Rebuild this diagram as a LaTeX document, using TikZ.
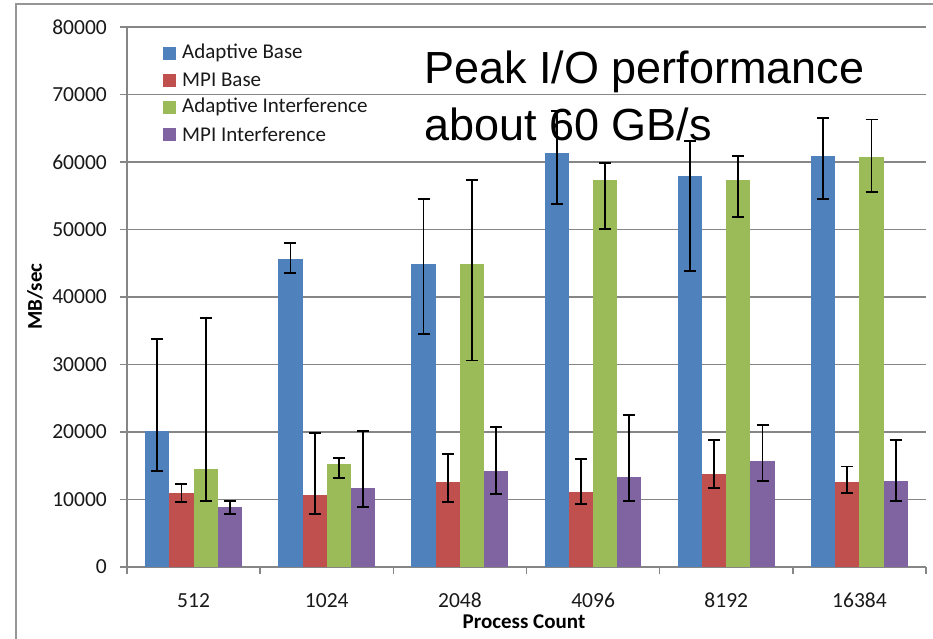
\documentclass[tikz,border=0pt]{standalone}
\usepackage{fontspec}
\setmainfont{Carlito}
\newfontfamily\arialf{Liberation Sans}
\definecolor{cblue}{RGB}{79,129,189}
\definecolor{cred}{RGB}{192,80,77}
\definecolor{cgreen}{RGB}{155,187,89}
\definecolor{cpurple}{RGB}{128,100,162}
\definecolor{gridc}{RGB}{134,134,134}
\definecolor{framec}{RGB}{150,150,150}
\newcommand\drawbar[5]{%
  \fill[#2] (#1,0) rectangle ({#1+24.2},#3);
  \draw[errb] ({#1+12.1},#4) -- ({#1+12.1},#5);
  \draw[errb] ({#1+6.1},#4) -- ({#1+18.1},#4);
  \draw[errb] ({#1+6.1},#5) -- ({#1+18.1},#5);
}
\begin{document}
\begin{tikzpicture}[x=1pt,y=-1pt,
  gridline/.style={draw=gridc,line width=1.5pt},
  errb/.style={draw=black,line width=1.8pt},
  ticklab/.style={font=\fontsize{21.5}{24}\selectfont,text=black!90,inner sep=0pt},
  legtxt/.style={font=\fontsize{21}{24}\selectfont,text=black!90,inner sep=0pt,anchor=west},
  legbox/.style={minimum width=13pt,minimum height=13pt,inner sep=0pt},
  axtitle/.style={font=\bfseries\fontsize{21}{24}\selectfont,inner sep=0pt},
  bigtxt/.style={font=\arialf\fontsize{45}{54}\selectfont,inner sep=0pt,anchor=base west}]
\useasboundingbox (0,0) rectangle (933,638);
\clip (0,0) rectangle (933,638);
\fill[white] (0,0) rectangle (933,638);
\draw[framec,line width=1.5pt] (16,4) rectangle (980,700);
% gridlines and y ticks
\foreach \v in {1,...,8}{
  \pgfmathsetmacro\yy{567-\v*67.5}
  \draw[gridline] (120,\yy) -- (926,\yy);
}
\foreach \v/\lab in {0/0,1/10000,2/20000,3/30000,4/40000,5/50000,6/60000,7/70000,8/80000}{
  \pgfmathsetmacro\yy{567-\v*67.5}
  \draw[gridline] (120,\yy) -- (127,\yy);
  \node[ticklab,anchor=east] (yl\v) at (107,\yy) {\lab};
}
% axes
\draw[gridline] (127,27) -- (127,567);
\draw[gridline] (127,567) -- (926,567);
\foreach \i in {0,...,6}{
  \pgfmathsetmacro\xx{127+\i*133.17}
  \draw[gridline] (\xx,567) -- (\xx,574);
}
% bars
\begin{scope}[shift={(127pt,-567pt)},x=1pt,y=6.75pt]
\foreach \i/\b/\bl/\bh/\r/\rl/\rh/\g/\gl/\gh/\p/\pl/\ph in {
  0/20.1/14.2/33.8/10.9/9.6/12.25/14.55/9.8/36.9/8.93/7.9/9.83,
  1/45.6/43.5/47.95/10.6/7.85/19.9/15.26/13.23/16.2/11.65/8.84/20.1,
  2/44.9/34.5/54.5/12.6/9.58/16.7/44.9/30.6/57.3/14.27/10.77/20.8,
  3/61.3/53.8/67.6/11.1/9.33/15.95/57.3/50.1/59.9/13.28/9.78/22.5,
  4/58.0/43.8/63.1/13.8/11.75/18.8/57.3/51.8/60.85/15.75/12.7/21.05,
  5/60.95/54.5/66.5/12.55/11.0/14.9/60.7/55.5/66.3/12.8/9.78/18.8}{
  \pgfmathsetmacro\xa{\i*133.17+18.15}
  \pgfmathsetmacro\xb{\xa+24.2}
  \pgfmathsetmacro\xc{\xa+48.4}
  \pgfmathsetmacro\xd{\xa+72.6}
  \drawbar{\xa}{cblue}{\b}{\bl}{\bh}
  \drawbar{\xb}{cred}{\r}{\rl}{\rh}
  \drawbar{\xc}{cgreen}{\g}{\gl}{\gh}
  \drawbar{\xd}{cpurple}{\p}{\pl}{\ph}
}
\end{scope}
% x labels
\foreach \i/\lab in {0/512,1/1024,2/2048,3/4096,4/8192,5/16384}{
  \pgfmathsetmacro\xx{127+(\i+0.5)*133.17}
  \node[ticklab,anchor=base] (xl\i) at (\xx,607) {\lab};
}
% axis titles
\node[axtitle,anchor=base] (xt) at (524,628) {Process Count};
\node[axtitle,rotate=90] (yt) at (35,296.5) {MB/sec};
% legend
\foreach \j/\c/\t in {0/cblue/Adaptive Base,1/cred/MPI Base,2/cgreen/Adaptive Interference,3/cpurple/MPI Interference}{
  \pgfmathsetmacro\yy{53.3+\j*27}
  \node[legbox,fill=\c] (lb\j) at (169.2,\yy) {};
  \node[legtxt] (lt\j) at (182,\yy) {\t};
}
% annotation
\node[bigtxt] (ann1) at (424,83.3) {Peak I/O performance};
\node[bigtxt] (ann2) at (424,140) {about 60 GB/s};
\end{tikzpicture}
\end{document}
